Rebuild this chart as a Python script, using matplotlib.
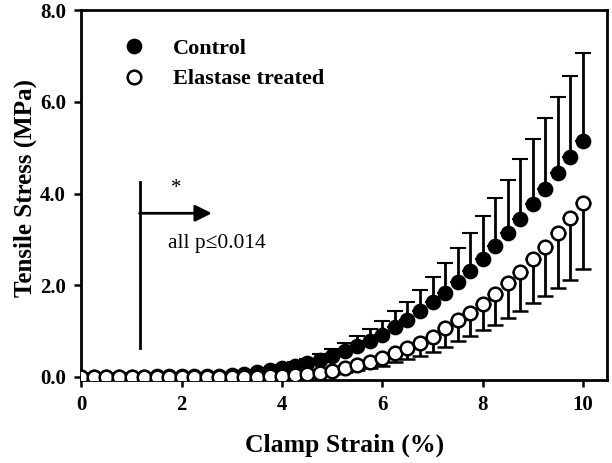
import numpy as np
import matplotlib
matplotlib.use('Agg')
import matplotlib.pyplot as plt

# ---------------------------- data ----------------------------
strain = np.arange(41) * 0.25          # clamp strain, % (0 ... 10)

control = [0.0, 0.0, 0.0, 0.0, 0.0, 0.0, 0.01, 0.01, 0.01, 0.02,
           0.02, 0.03, 0.05, 0.07, 0.10, 0.14, 0.19, 0.24, 0.30, 0.37,
           0.45, 0.56, 0.67, 0.79, 0.92, 1.08, 1.24, 1.43, 1.64, 1.84,
           2.08, 2.30, 2.58, 2.86, 3.14, 3.45, 3.77, 4.10, 4.45, 4.80,
           5.14]
control_sd = [0.0, 0.0, 0.0, 0.0, 0.0, 0.0, 0.01, 0.01, 0.01, 0.01,
              0.02, 0.02, 0.03, 0.03, 0.04, 0.05, 0.06, 0.08, 0.10, 0.12,
              0.15, 0.18, 0.22, 0.25, 0.31, 0.35, 0.40, 0.47, 0.54, 0.64,
              0.73, 0.84, 0.92, 1.04, 1.16, 1.30, 1.42, 1.55, 1.65, 1.76,
              1.93]

elastase = [0.0, 0.0, 0.0, 0.0, 0.0, 0.0, 0.0, 0.0, 0.0, 0.0,
            0.0, 0.0, 0.0, 0.0, 0.0, 0.01, 0.02, 0.04, 0.06, 0.09,
            0.13, 0.19, 0.25, 0.33, 0.41, 0.52, 0.63, 0.73, 0.88, 1.06,
            1.24, 1.40, 1.59, 1.81, 2.05, 2.28, 2.57, 2.84, 3.15, 3.46,
            3.79]
elastase_sd = [0.0, 0.0, 0.0, 0.0, 0.0, 0.0, 0.0, 0.0, 0.0, 0.0,
               0.0, 0.0, 0.0, 0.0, 0.0, 0.01, 0.02, 0.02, 0.04, 0.05,
               0.07, 0.09, 0.11, 0.14, 0.17, 0.20, 0.24, 0.27, 0.33, 0.40,
               0.46, 0.50, 0.56, 0.67, 0.77, 0.84, 0.96, 1.07, 1.21, 1.34,
               1.44]

zeros = [0.0] * len(strain)

# ---------------------------- plot ----------------------------
plt.rcParams['font.family'] = ['Liberation Serif', 'DejaVu Serif']

fig = plt.figure(figsize=(6.12, 4.63), dpi=100)
ax = fig.add_axes([0.133, 0.179, 0.859, 0.799])

eb1 = ax.errorbar(strain, control, yerr=[zeros, control_sd], fmt='o', color='black',
                  ms=9.8, mec='black', mfc='black', mew=1.5, ecolor='black',
                  elinewidth=2.0, capsize=6, capthick=2.0, zorder=3)
eb2 = ax.errorbar(strain, elastase, yerr=[elastase_sd, zeros], fmt='o', color='black',
                  ms=9.8, mec='black', mfc='white', mew=1.8, ecolor='black',
                  elinewidth=2.0, capsize=6, capthick=2.0, zorder=4)

ax.set_xlim(0, 10.48)
ax.set_ylim(-0.07, 8.0)
ax.set_xticks([0, 2, 4, 6, 8, 10])
ax.set_yticks([0, 2, 4, 6, 8])
ax.set_yticklabels(['0.0', '2.0', '4.0', '6.0', '8.0'])
ax.tick_params(direction='out', length=5, width=1.8, top=False, right=False,
               labelsize=15, pad=6)
for lab in ax.get_xticklabels() + ax.get_yticklabels():
    lab.set_fontweight('bold')
for s in ax.spines.values():
    s.set_linewidth(2.0)

ax.set_xlabel('Clamp Strain (%)', fontsize=18.5, fontweight='bold', labelpad=13)
ax.set_ylabel('Tensile Stress (MPa)', fontsize=18, fontweight='bold')
ax.yaxis.set_label_coords(-0.084, 0.52)

# significance marker
ax.plot([1.16, 1.16], [0.63, 4.25], color='black', lw=2.0)
ax.annotate('', xy=(2.6, 3.57), xytext=(1.16, 3.57),
            arrowprops=dict(arrowstyle='-|>,head_length=1.0,head_width=0.5',
                            color='black', lw=2.0, shrinkA=0, shrinkB=0))
ax.text(1.78, 4.1, '*', fontsize=15, ha='left', va='center')
ax.text(1.72, 2.9, 'all p\u22640.014', fontsize=15.5, ha='left', va='center')

ax.legend(handles=[eb1.lines[0], eb2.lines[0]], labels=['Control', 'Elastase treated'],
          loc='upper left', bbox_to_anchor=(0.045, 0.978), frameon=False,
          handletextpad=1.35, handlelength=0.8, labelspacing=0.45,
          prop={'weight': 'bold', 'size': 16})

fig.savefig('out.png', dpi=100)
